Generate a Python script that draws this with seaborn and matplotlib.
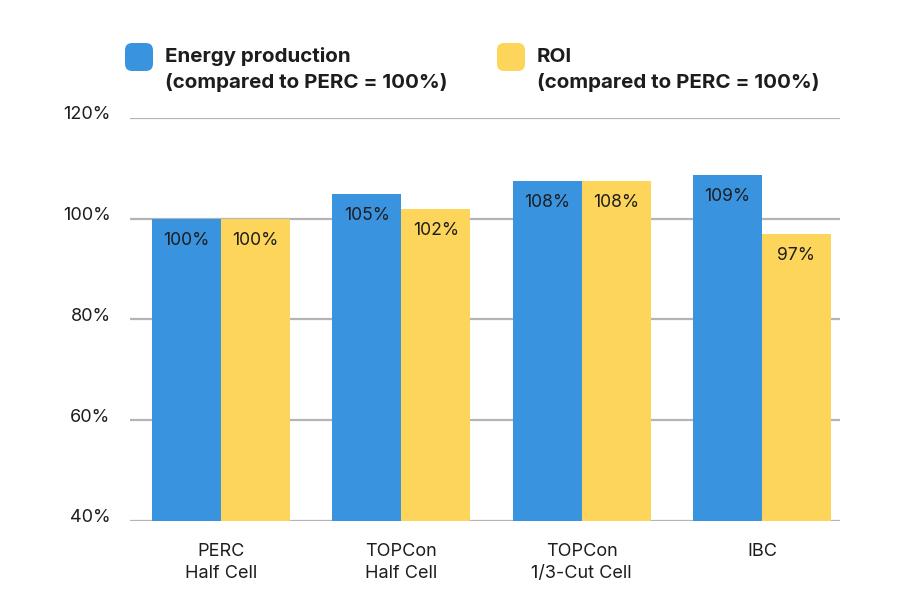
import matplotlib
matplotlib.use("Agg")
import matplotlib.pyplot as plt
import matplotlib.transforms as mtransforms
from matplotlib.patches import FancyBboxPatch
import pandas as pd
import seaborn as sns

# chart data
categories = ["PERC\nHalf Cell", "TOPCon\nHalf Cell", "TOPCon\n1/3-Cut Cell", "IBC"]
energy = [100, 105, 107.5, 108.7]
roi = [100, 102, 107.5, 97]
energy_labels = ["100%", "105%", "108%", "109%"]
roi_labels = ["100%", "102%", "108%", "97%"]
series_names = ["Energy production", "ROI"]
y_ticks = [40, 60, 80, 100, 120]

blue = "#3A93DF"
yellow = "#FDD55B"
text_color = "#1d1d1f"

df = pd.DataFrame({
    "category": categories * 2,
    "value": energy + roi,
    "series": [series_names[0]] * 4 + [series_names[1]] * 4,
})

sns.set_style("white")
plt.rcParams["font.family"] = ["Inter", "DejaVu Sans"]

fig = plt.figure(figsize=(9, 6), dpi=100)
ax = fig.add_axes([0.1444, 0.1317, 0.7889, 0.6717])

sns.barplot(data=df, x="category", y="value", hue="series",
            palette=[blue, yellow], width=0.766, saturation=1,
            linewidth=0, legend=False, ax=ax, zorder=3)

ax.set_ylim(40, 120)
ax.set_xlim(-0.505, 3.433)
ax.set_yticks(y_ticks)
ax.set_yticklabels([f"{t}%" for t in y_ticks], fontsize=13, color=text_color)
ax.tick_params(axis="y", length=0, pad=14)
ax.tick_params(axis="x", length=0, pad=16, labelsize=13, labelcolor=text_color)
for lab in ax.get_xticklabels():
    lab.set_linespacing(1.35)
# y tick labels sit a little above their gridline
shift = mtransforms.ScaledTranslation(0, 5 / 100, fig.dpi_scale_trans)
for lab in ax.get_yticklabels():
    lab.set_transform(lab.get_transform() + shift)
ax.set_xlabel("")
ax.set_ylabel("")
ax.yaxis.grid(True, color="#b4b4b4", linewidth=1.6, zorder=0)
ax.set_axisbelow(True)
for s in ax.spines.values():
    s.set_visible(False)

# value labels inside the bars
for container, labels in zip(ax.containers, [energy_labels, roi_labels]):
    for bar, lab in zip(container, labels):
        ax.annotate(lab, (bar.get_x() + bar.get_width() / 2, bar.get_height()),
                    xytext=(0, -22), textcoords="offset pixels",
                    ha="center", va="center", fontsize=12.6, color=text_color)

# custom legend at the top
legend_items = [(125, blue, series_names[0]), (497, yellow, series_names[1])]
for x0, col, name in legend_items:
    box = FancyBboxPatch((x0 / 900, 1 - 71 / 600), 28 / 900, 28 / 600,
                         boxstyle="round,pad=0,rounding_size=0.008",
                         transform=fig.transFigure, facecolor=col,
                         edgecolor="none", mutation_aspect=1.5)
    fig.patches.append(box)
    fig.text((x0 + 40) / 900, 1 - 57 / 600, name, fontsize=14.8,
             fontweight="bold", color=text_color, va="center", ha="left")
    fig.text((x0 + 40) / 900, 1 - 83 / 600, "(compared to PERC = 100%)",
             fontsize=14.8, fontweight="bold", color=text_color,
             va="center", ha="left")

fig.savefig("out.png", dpi=100, facecolor="white")
